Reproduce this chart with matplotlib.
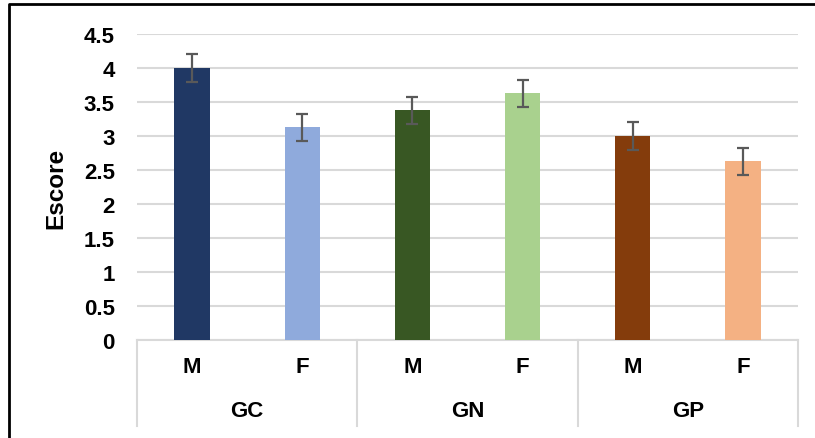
import matplotlib
matplotlib.use("Agg")
import matplotlib.pyplot as plt
import matplotlib.transforms as mtransforms
from matplotlib.lines import Line2D

groups = ["GC", "GN", "GP"]
sexes = ["M", "F"]
values = [4.00, 3.13, 3.38, 3.63, 3.00, 2.63]
errors = [0.20, 0.20, 0.20, 0.20, 0.20, 0.20]
colors = ["#203864", "#8FAADC", "#385723", "#A9D18E", "#843C0C", "#F4B183"]
yticks = [0, 0.5, 1, 1.5, 2, 2.5, 3, 3.5, 4, 4.5]
ytick_labels = ["0", "0.5", "1", "1.5", "2", "2.5", "3", "3.5", "4", "4.5"]

plt.rcParams['font.family'] = ['Liberation Sans', 'DejaVu Sans']

W, H = 815, 439
fig = plt.figure(figsize=(W / 100, H / 100), dpi=100)
ax = fig.add_axes([137 / W, 1 - 341 / H, (798 - 137) / W, (341 - 35) / H])

x = list(range(len(values)))
ax.bar(x, values, width=0.32, color=colors, zorder=3)
ax.errorbar(x, values, yerr=errors, fmt='none', ecolor='#595959',
            elinewidth=1.6, capsize=4.3, capthick=1.6, zorder=4)

ax.set_xlim(-0.5, len(values) - 0.5)
ax.set_ylim(0, 4.5)
ax.set_yticks(yticks)
ax.set_yticklabels(ytick_labels, fontsize=16, fontweight='bold')
ax.yaxis.grid(True, color='#D9D9D9', linewidth=1.5, zorder=0)
ax.tick_params(axis='y', length=0, pad=16)
ax.set_xticks([])
for s in ['top', 'right', 'left']:
    ax.spines[s].set_visible(False)
ax.spines['bottom'].set_color('#D9D9D9')
ax.spines['bottom'].set_linewidth(1.5)
ax.set_ylabel("Escore", fontsize=17.5, fontweight='bold', labelpad=12)

trans = mtransforms.blended_transform_factory(ax.transData, ax.transAxes)
depth = (427 - 341) / (341 - 35)
for sx in [-0.5, 1.5, 3.5, 5.5]:
    ax.add_line(Line2D([sx, sx], [0, -depth], transform=trans, color='#D9D9D9',
                       linewidth=1.5, clip_on=False))

sub_y = -(368 - 341) / (341 - 35)
grp_y = -(412 - 341) / (341 - 35)
for i in x:
    ax.text(i, sub_y, sexes[i % 2], transform=trans, ha='center', va='center',
            fontsize=16, fontweight='bold')
for g, name in enumerate(groups):
    ax.text(2 * g + 0.5, grp_y, name, transform=trans, ha='center', va='center',
            fontsize=16, fontweight='bold')

fig.add_artist(Line2D([9 / W, 9 / W, 1.0], [0, 1 - 5 / H, 1 - 5 / H],
                      transform=fig.transFigure, color='black', linewidth=2))

fig.savefig("out.png", dpi=100)
